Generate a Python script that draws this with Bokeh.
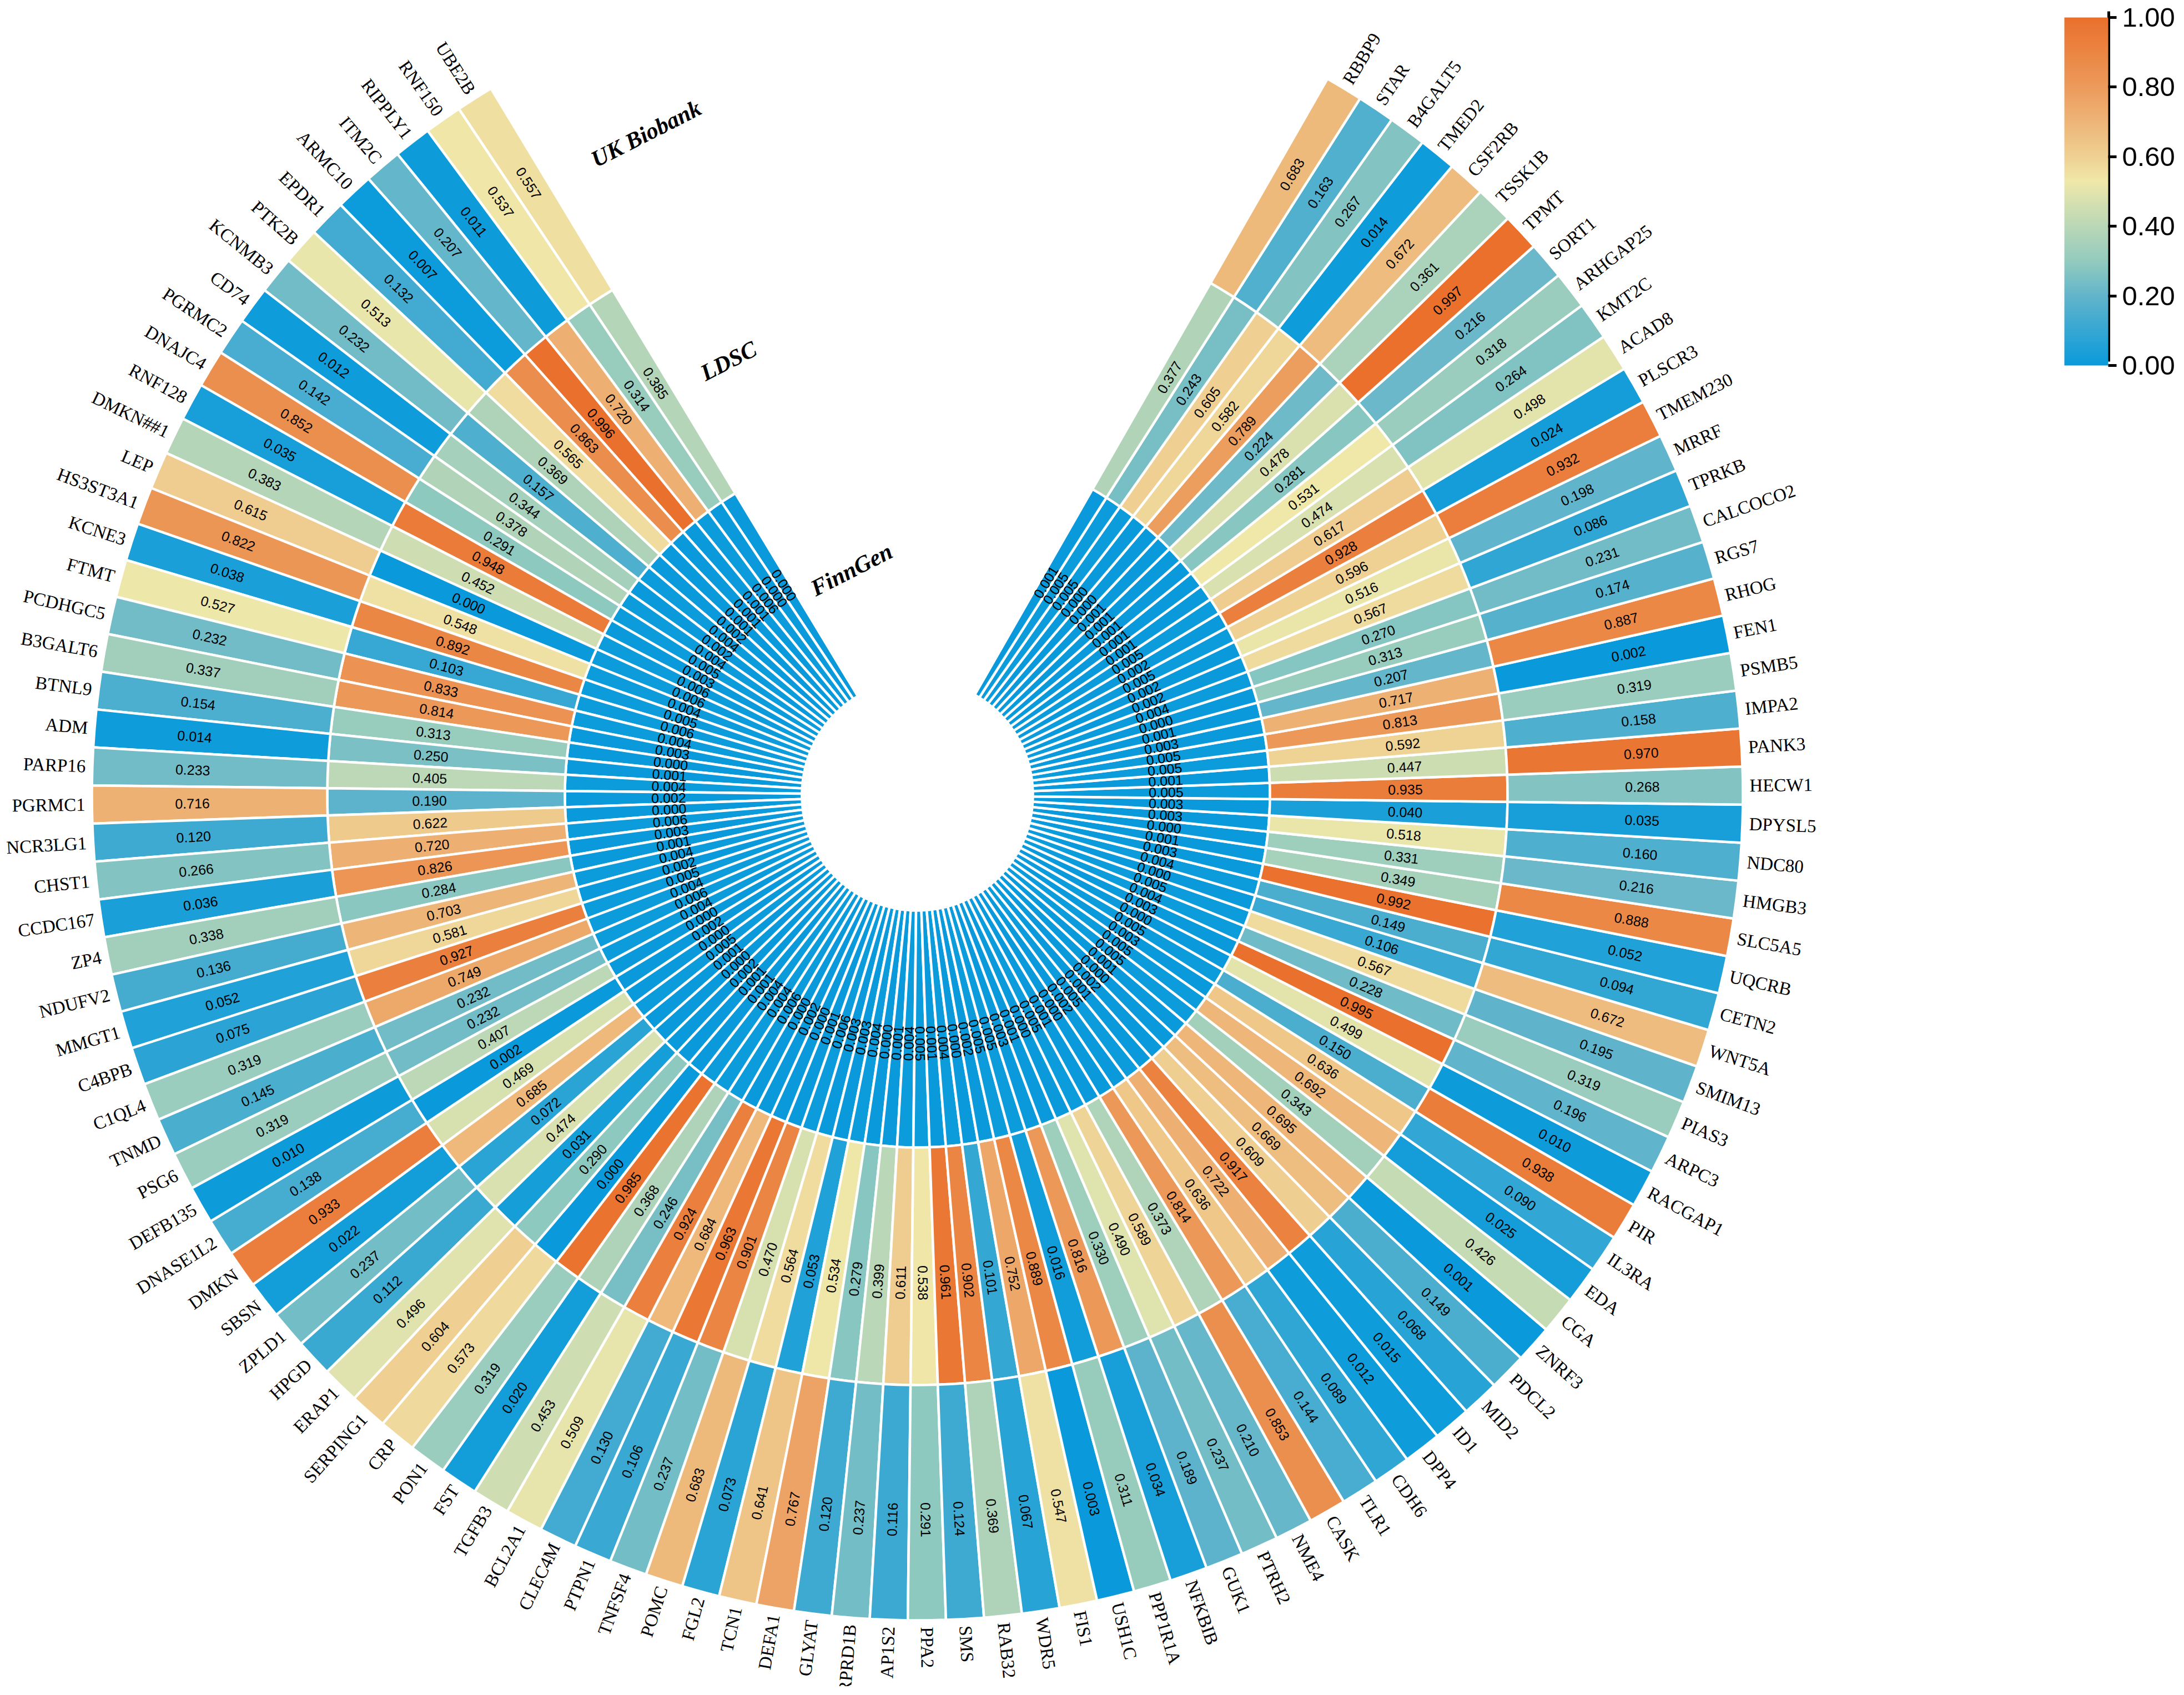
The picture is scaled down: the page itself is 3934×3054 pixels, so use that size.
import math
from bokeh.plotting import figure
from bokeh.embed import file_html
from bokeh.resources import INLINE
from bokeh.models import ColumnDataSource, LinearColorMapper, ColorBar, FixedTicker, PrintfTickFormatter
from bokeh.core.properties import value

genes = """UBE2B RNF150 RIPPLY1 ITM2C ARMC10 EPDR1 PTK2B KCNMB3 CD74 PGRMC2
DNAJC4 RNF128 DMKN##1 LEP HS3ST3A1 KCNE3 FTMT PCDHGC5 B3GALT6 BTNL9
ADM PARP16 PGRMC1 NCR3LG1 CHST1 CCDC167 ZP4 NDUFV2 MMGT1 C4BPB
C1QL4 TNMD PSG6 DEFB135 DNASE1L2 DMKN SBSN ZPLD1 HPGD ERAP1
SERPING1 CRP PON1 FST TGFB3 BCL2A1 CLEC4M PTPN1 TNFSF4 POMC
FGL2 TCN1 DEFA1 GLYAT RPRD1B AP1S2 PPA2 SMS RAB32 WDR5
FIS1 USH1C PPP1R1A NFKBIB GUK1 PTRH2 NME4 CASK TLR1 CDH6
DPP4 ID1 MID2 PDCL2 ZNRF3 CGA EDA IL3RA PIR RACGAP1
ARPC3 PIAS3 SMIM13 WNT5A CETN2 UQCRB SLC5A5 HMGB3 NDC80 DPYSL5
HECW1 PANK3 IMPA2 PSMB5 FEN1 RHOG RGS7 CALCOCO2 TPRKB MRRF
TMEM230 PLSCR3 ACAD8 KMT2C ARHGAP25 SORT1 TPMT TSSK1B CSF2RB TMED2
B4GALT5 STAR RBBP9""".split()

uk_biobank = [.557,.537,.011,.207,.007,.132,.513,.232,.012,.142,
 .852,.035,.383,.615,.822,.038,.527,.232,.337,.154,
 .014,.233,.716,.120,.266,.036,.338,.136,.052,.075,
 .319,.145,.319,.010,.138,.933,.022,.237,.112,.496,
 .604,.573,.319,.020,.453,.509,.130,.106,.237,.683,
 .073,.641,.767,.120,.237,.116,.291,.124,.369,.067,
 .547,.003,.311,.034,.189,.237,.210,.853,.144,.089,
 .012,.015,.068,.149,.001,.426,.025,.090,.938,.010,
 .196,.319,.195,.672,.094,.052,.888,.216,.160,.035,
 .268,.970,.158,.319,.002,.887,.174,.231,.086,.198,
 .932,.024,.498,.264,.318,.216,.997,.361,.672,.014,
 .267,.163,.683]

ldsc = [.385,.314,.720,.996,.863,.565,.369,.157,.344,.378,
 .291,.948,.452,.000,.548,.892,.103,.833,.814,.313,
 .250,.405,.190,.622,.720,.826,.284,.703,.581,.927,
 .749,.232,.232,.407,.002,.469,.685,.072,.474,.031,
 .290,.000,.985,.368,.246,.924,.684,.963,.901,.470,
 .564,.053,.534,.279,.399,.611,.538,.961,.902,.101,
 .752,.889,.016,.816,.330,.490,.589,.373,.814,.636,
 .722,.917,.609,.669,.695,.343,.692,.636,.150,.499,
 .995,.228,.567,.106,.149,.992,.349,.331,.518,.040,
 .935,.447,.592,.813,.717,.207,.313,.270,.567,.516,
 .596,.928,.617,.474,.531,.281,.478,.224,.789,.582,
 .605,.243,.377]

finngen = [.000,.000,.006,.001,.001,.001,.002,.004,.002,.004,
 .005,.003,.006,.006,.004,.005,.006,.004,.003,.000,
 .001,.004,.002,.000,.006,.003,.001,.004,.002,.005,
 .004,.006,.004,.000,.002,.000,.005,.001,.000,.002,
 .001,.001,.004,.004,.006,.000,.002,.000,.001,.006,
 .003,.003,.004,.000,.001,.004,.005,.001,.004,.000,
 .002,.005,.005,.003,.001,.000,.005,.001,.000,.002,
 .005,.001,.002,.000,.001,.005,.005,.003,.005,.000,
 .003,.004,.005,.000,.004,.003,.001,.000,.003,.003,
 .005,.001,.005,.005,.003,.001,.000,.004,.002,.002,
 .005,.002,.005,.001,.001,.001,.001,.001,.000,.000,
 .005,.005,.001]

tracks = ["FinnGen", "LDSC", "UK Biobank"]
track_values = [finngen, ldsc, uk_biobank]
color_stops = [(0.0,(10,154,219)),(0.2,(98,181,203)),(0.3,(147,203,190)),(0.4,(186,215,183)),
               (0.53,(239,232,169)),(0.6,(239,208,147)),(0.8,(236,155,92)),(1.0,(234,112,44))]
tick_values = [0, .2, .4, .6, .8, 1.0]

# geometry in reference pixels
W, H = 3918, 3038
CX, CY = 1660, 3054 - 1440
RINGS = [208, 635, 1063, 1487]
LABEL_R = [448, 879, 1306]
GENE_R = 1499
UNITS = 136
STEP = 2 * math.pi / UNITS
START = math.pi / 2 + math.radians(31.1)

def lerp_palette(n=256):
    out = []
    for k in range(n):
        t = k / (n - 1)
        for (a, ca), (b, cb) in zip(color_stops, color_stops[1:]):
            if a <= t <= b:
                f = (t - a) / (b - a)
                c = [round(x + (y - x) * f) for x, y in zip(ca, cb)]
                out.append("#%02x%02x%02x" % tuple(c))
                break
    return out

mapper = LinearColorMapper(palette=lerp_palette(), low=0, high=1)

p = figure(width=W, height=H, x_range=(8, 8 + W), y_range=(8, 8 + H),
           output_backend="svg", toolbar_location=None, min_border=0,
           outline_line_color=None)
p.axis.visible = False
p.grid.visible = False
p.background_fill_color = "white"

def rotation(phi):
    a = phi - math.pi / 2
    return phi - math.pi if a < math.pi else phi - 2 * math.pi

n = len(genes)
angs = [START + (i + .5) * STEP for i in range(n)]
for t, vals in enumerate(track_values):
    src = ColumnDataSource(dict(
        v=vals,
        s=[START + i * STEP for i in range(n)],
        e=[START + (i + 1) * STEP for i in range(n)],
        x=[CX] * n, y=[CY] * n,
    ))
    p.annular_wedge(x="x", y="y", inner_radius=RINGS[t], outer_radius=RINGS[t + 1],
                    start_angle="s", end_angle="e", source=src,
                    fill_color={"field": "v", "transform": mapper},
                    line_color="white", line_width=4.5)
    rm = LABEL_R[t]
    lab = ColumnDataSource(dict(
        x=[CX + rm * math.cos(a) for a in angs],
        y=[CY + rm * math.sin(a) for a in angs],
        txt=["%.3f" % v for v in vals],
        ang=[rotation(a) for a in angs],
    ))
    p.text(x="x", y="y", text="txt", angle="ang", source=lab,
           text_font=value("Liberation Sans"), text_font_size="25px",
           text_align="center", text_baseline="middle", text_color="black")

for side_left in (True, False):
    idx = [i for i in range(n) if (angs[i] - math.pi / 2 < math.pi) == side_left]
    lab = ColumnDataSource(dict(
        x=[CX + GENE_R * math.cos(angs[i]) for i in idx],
        y=[CY + GENE_R * math.sin(angs[i]) for i in idx],
        txt=[genes[i] for i in idx],
        ang=[rotation(angs[i]) for i in idx],
    ))
    p.text(x="x", y="y", text="txt", angle="ang", source=lab,
           text_font=value("Liberation Serif"), text_font_size="33px",
           text_align="right" if side_left else "left", text_baseline="middle",
           text_color="black")

# track names
name_r = [423, 853, 1288]
name_a = [16.3, 23.5, 22.3]
src = ColumnDataSource(dict(
    x=[CX - r * math.sin(math.radians(a)) for r, a in zip(name_r, name_a)],
    y=[CY + r * math.cos(math.radians(a)) for r, a in zip(name_r, name_a)],
    txt=tracks,
))
p.text(x="x", y="y", text="txt", angle=math.radians(27), source=src,
       text_font=value("Liberation Serif"), text_font_style="bold italic", text_font_size="42px",
       text_align="center", text_baseline="middle", text_color="black")

cb = ColorBar(color_mapper=mapper, width=79, height=627,
              location=(3721 - 8 + 5, 3054 - 657 - 8 - 9), padding=0, margin=0,
              ticker=FixedTicker(ticks=tick_values), formatter=PrintfTickFormatter(format="%.2f"),
              major_label_text_font="Liberation Sans", major_label_text_font_size="49px",
              major_label_text_color="black", major_tick_line_color="black",
              major_tick_line_width=5, major_tick_out=15, major_tick_in=0, label_standoff=10,
              bar_line_color=None, border_line_color=None, background_fill_color=None, minor_tick_line_color=None)
p.add_layout(cb, "center")
# colour bar spine
p.segment(x0=[3801 + 5], y0=[3054 - 30 + 2], x1=[3801 + 5], y1=[3054 - 657 - 2], line_color="black", line_width=5)

open("out.html", "w").write(file_html(p, INLINE))
